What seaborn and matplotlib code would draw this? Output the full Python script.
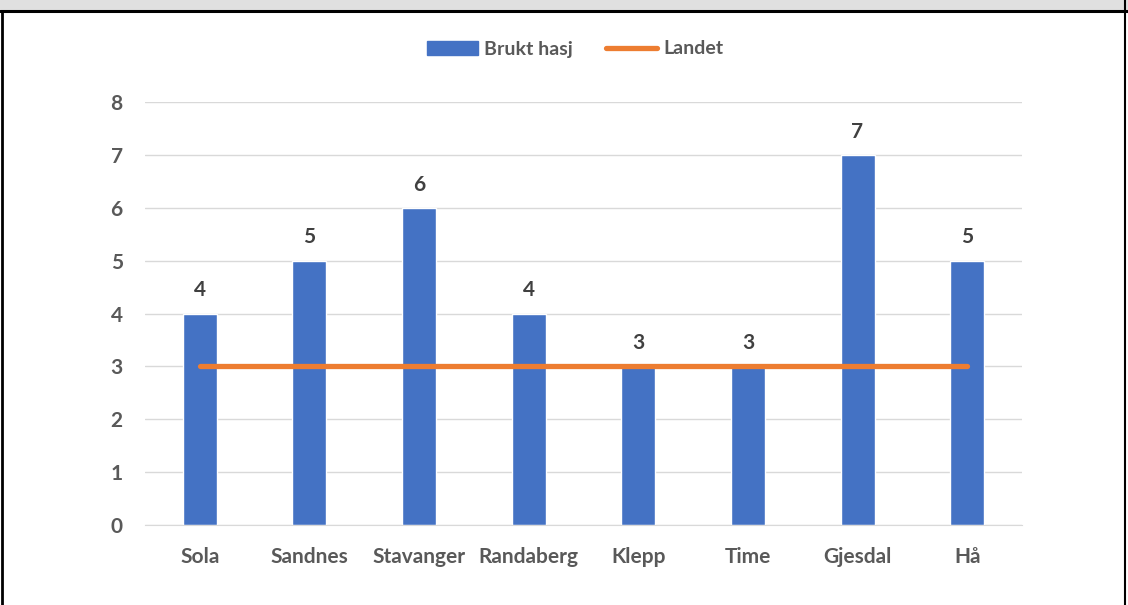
import numpy as np
import pandas as pd
import matplotlib
matplotlib.use("Agg")
import matplotlib.pyplot as plt
import seaborn as sns
from matplotlib.patches import Rectangle
from matplotlib.lines import Line2D

# data
kommuner = ["Sola", "Sandnes", "Stavanger", "Randaberg", "Klepp", "Time", "Gjesdal", "Hå"]
brukt_hasj = [4, 5, 6, 4, 3, 3, 7, 5]
landet = [3, 3, 3, 3, 3, 3, 3, 3]

blue = "#4472C4"
orange = "#ED7D31"
txt = "#595959"
grid = "#D9D9D9"

sns.set_style("white")
plt.rcParams['font.family'] = ['Lato', 'DejaVu Sans']
plt.rcParams['font.weight'] = 'bold'

df = pd.DataFrame({"kommune": kommuner, "Brukt hasj": brukt_hasj, "Landet": landet})

fig = plt.figure(figsize=(11.28, 6.05), dpi=100)
ax = fig.add_axes([145/1128, 1-525/605, (1022-145)/1128, (525-102)/605])

sns.barplot(data=df, x="kommune", y="Brukt hasj", color=blue, width=0.31,
            saturation=1, ax=ax, zorder=2)
ax.plot(np.arange(len(kommuner)), df["Landet"], color=orange, lw=3.8,
        solid_capstyle="round", zorder=3)

for c in ax.containers:
    ax.bar_label(c, padding=9.5, fontsize=15, color="#404040", fontweight="bold")

ax.set_ylim(0, 8)
ax.set_xlim(-0.5, len(kommuner)-0.5)
ax.set_yticks(range(0, 9))
ax.yaxis.grid(True, color=grid, lw=1, zorder=0)
ax.set_axisbelow(True)
for s in ["top", "right", "left"]:
    ax.spines[s].set_visible(False)
ax.spines["bottom"].set_color(grid)
ax.tick_params(axis="both", length=0, labelsize=15, labelcolor=txt)
ax.tick_params(axis="y", pad=16)
ax.tick_params(axis="x", pad=16)
for lab in ax.get_xticklabels() + ax.get_yticklabels():
    lab.set_fontweight("bold")
ax.set_xlabel("")
ax.set_ylabel("")

handles = [Rectangle((0, 0), 1, 1, color=blue),
           Line2D([0], [0], color=orange, lw=3.8, solid_capstyle="round")]
fig.legend(handles, ["Brukt hasj", "Landet"], loc="center",
           bbox_to_anchor=(0.51, 1-49/605), ncol=2, frameon=False,
           labelcolor=txt, handlelength=2.6, handletextpad=0.35,
           columnspacing=1.7, prop={"weight": "bold", "size": 14})

# frame like the screenshot: grey band on top, black borders
fig.patches.append(Rectangle((0, 1-10/605), 1, 10/605, transform=fig.transFigure,
                             facecolor="#E0E0E0", edgecolor="none"))
fig.add_artist(Line2D([0, 1], [1-11/605, 1-11/605], transform=fig.transFigure, color="black", lw=2.2))
fig.add_artist(Line2D([1.5/1128, 1.5/1128], [0, 1-11/605], transform=fig.transFigure, color="black", lw=2))
fig.add_artist(Line2D([1-3/1128, 1-3/1128], [0, 1], transform=fig.transFigure, color="black", lw=1.5))

fig.savefig("out.png", dpi=100)
